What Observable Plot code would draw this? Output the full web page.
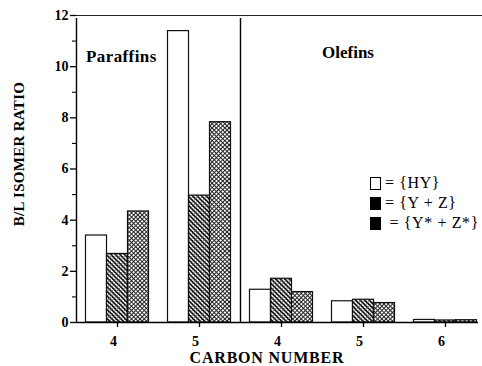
<!DOCTYPE html>
<html>
<head>
<meta charset="utf-8">
<script src="https://cdn.jsdelivr.net/npm/d3@7"></script>
<script src="https://cdn.jsdelivr.net/npm/@observablehq/plot@0.6"></script>
<style>
  html, body { margin: 0; padding: 0; background: #fff; }
  #chart { position: relative; width: 482px; height: 366px; overflow: hidden;
           font-family: "Liberation Serif", "Times New Roman", serif; color: #000; }
  #chart svg { position: absolute; left: 0; top: 0; }
  #chart svg text { font-family: "Liberation Serif", "Times New Roman", serif; font-weight: bold; font-size: 14px; }
  .lbl { position: absolute; white-space: nowrap; font-weight: bold; line-height: 1; }
  .legend { position: absolute; left: 370px; top: 173px; font-size: 16px; line-height: 20px; }
  .legend .row { display: flex; align-items: center; height: 20px; white-space: nowrap; letter-spacing: 0.6px; }
  .legend .sw { display: inline-block; width: 9px; height: 11px; border: 1px solid #000; margin-right: 4px; box-sizing: content-box; }
</style>
</head>
<body>
<div id="chart"></div>
<script>
// Carbon number of each bar group, and the hydrocarbon family it belongs to
const carbonNumbers = [4, 5, 4, 5, 6];
const families = ["Paraffins", "Paraffins", "Olefins", "Olefins", "Olefins"];

// B/L isomer ratio for each catalyst set
const hy = [3.40, 11.39, 1.28, 0.83, 0.10];
const yz = [2.68, 4.96, 1.71, 0.89, 0.08];
const ysZs = [4.34, 7.83, 1.19, 0.76, 0.09];
const seriesNames = ["{HY}", "{Y + Z}", "{Y* + Z*}"];

// Axis ticks
const yMajorTicks = [0, 2, 4, 6, 8, 10, 12];
const yMinorTicks = [1, 3, 5, 7, 9, 11];

const groups = carbonNumbers.map((c, i) => `${families[i]} C${c}`);
const seriesValues = [hy, yz, ysZs];
const seriesFills = ["white", "url(#hatch)", "url(#cross)"];

// Layout of the band scale and of the bars inside each band
const xRange = [76, 486];
const step = (xRange[1] - xRange[0]) / groups.length;
const barWidth = 21;
const gap = (step - seriesValues.length * barWidth) / 2;

const plot = Plot.plot({
  width: 482,
  height: 366,
  marginLeft: 76,
  marginRight: 4,
  marginTop: 15,
  marginBottom: 44,
  style: { fontFamily: "'Liberation Serif', 'Times New Roman', serif", fontSize: "14px", fontWeight: "bold", background: "white", color: "black" },
  x: { type: "band", domain: groups, range: xRange, padding: 0 },
  y: { domain: [0, 12] },
  marks: [
    ...seriesValues.map((values, s) => Plot.barY(groups, {
      x: (d) => d,
      y: (d, i) => values[i],
      fill: seriesFills[s],
      stroke: "#111",
      strokeWidth: 1.2,
      insetLeft: gap + s * barWidth,
      insetRight: step - gap - (s + 1) * barWidth
    })),
    // top edge of the frame and the baseline
    Plot.ruleY([12], { stroke: "#222", strokeWidth: 1, insetRight: -4 }),
    Plot.ruleY([0], { stroke: "#000", strokeWidth: 1.5 }),
    // left axis line and the paraffin / olefin divider, drawn on band edges
    Plot.ruleX([groups[0], groups[2]], { x: (d) => d, dx: -step / 2, y1: 0, y2: 12, stroke: "#000", strokeWidth: 1.4, insetBottom: -3 }),
    Plot.axisY({ ticks: yMajorTicks, tickSize: 6, tickPadding: 2, strokeWidth: 1.3, label: null }),
    Plot.axisY({ ticks: yMinorTicks, tickSize: 4, strokeWidth: 1.1, tickFormat: () => "", label: null }),
    // carbon-number ticks, with their labels set slightly left of the tick
    Plot.axisX({ ticks: groups, tickSize: 5, strokeWidth: 1.3, tickFormat: () => "", label: null }),
    Plot.axisX({ ticks: groups, tickSize: 0, tickPadding: 14, dx: -4,
                 tickFormat: (d) => String(carbonNumbers[groups.indexOf(d)]), label: null })
  ]
});

// Fill patterns for the two zeolite-mixture series
const defs = d3.select(plot).insert("defs", ":first-child");
const hatch = defs.append("pattern")
  .attr("id", "hatch").attr("patternUnits", "userSpaceOnUse")
  .attr("width", 3.2).attr("height", 3.2).attr("patternTransform", "rotate(-45)");
hatch.append("rect").attr("width", 3.2).attr("height", 3.2).attr("fill", "#fff");
hatch.append("rect").attr("width", 1.7).attr("height", 3.2).attr("fill", "#111");
hatch.append("rect").attr("width", 3.2).attr("height", 0.6).attr("fill", "#555");

const cross = defs.append("pattern")
  .attr("id", "cross").attr("patternUnits", "userSpaceOnUse")
  .attr("width", 3).attr("height", 3).attr("patternTransform", "rotate(45)");
cross.append("rect").attr("width", 3).attr("height", 3).attr("fill", "#fff");
cross.append("rect").attr("width", 1).attr("height", 3).attr("fill", "#222");
cross.append("rect").attr("width", 3).attr("height", 1).attr("fill", "#222");

const chart = document.getElementById("chart");
chart.appendChild(plot);

// Titles and family labels
function addLabel(text, css) {
  const el = document.createElement("div");
  el.className = "lbl";
  el.textContent = text;
  Object.assign(el.style, css);
  chart.appendChild(el);
  return el;
}
addLabel("B/L ISOMER RATIO", { left: "18.5px", top: "154px", fontSize: "15px", letterSpacing: "0.3px",
  transform: "translate(-50%, -50%) rotate(-90deg)" });
addLabel("CARBON NUMBER", { left: "267px", top: "358px", fontSize: "16px", letterSpacing: "0.8px",
  transform: "translate(-50%, -50%)" });
const familyLabels = [...new Set(families)];
addLabel(familyLabels[0], { left: "86px", top: "56px", fontSize: "17px", letterSpacing: "0.4px", transform: "translateY(-50%)" });
addLabel(familyLabels[1], { left: "322px", top: "52px", fontSize: "17px", letterSpacing: "0px", transform: "translateY(-50%)" });

// Legend
const legend = document.createElement("div");
legend.className = "legend";
seriesNames.forEach((name, s) => {
  const row = document.createElement("div");
  row.className = "row";
  const sw = document.createElement("span");
  sw.className = "sw";
  sw.style.background = s === 0 ? "#fff" : "#000";
  row.appendChild(sw);
  row.appendChild(document.createTextNode((s === 2 ? "\u00a0= " : "= ") + name));
  legend.appendChild(row);
});
chart.appendChild(legend);
</script>
</body>
</html>
